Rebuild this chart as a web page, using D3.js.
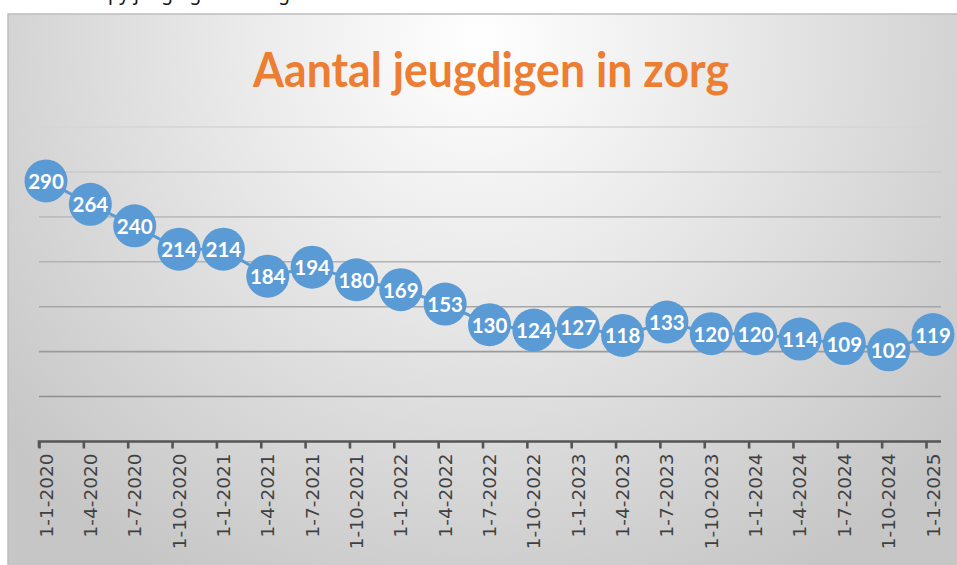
<!DOCTYPE html>
<html>
<head>
<meta charset="utf-8">
<script src="https://cdn.jsdelivr.net/npm/d3@7"></script>
<style>
  html, body { margin: 0; padding: 0; background: #fff; }
  svg { display: block; }
</style>
</head>
<body>
<div id="chart"></div>
<script>
const dates = ["1-1-2020", "1-4-2020", "1-7-2020", "1-10-2020", "1-1-2021", "1-4-2021", "1-7-2021",
    "1-10-2021", "1-1-2022", "1-4-2022", "1-7-2022", "1-10-2022", "1-1-2023", "1-4-2023",
    "1-7-2023", "1-10-2023", "1-1-2024", "1-4-2024", "1-7-2024", "1-10-2024", "1-1-2025"];
const counts = [290, 264, 240, 214, 214, 184, 194, 180, 169, 153, 130, 124, 127, 118, 133, 120, 120, 114, 109, 102, 119];
const gridValues = [50, 100, 150, 200, 250, 300, 350];
const title = "Aantal jeugdigen in zorg";

const width = 957;
const height = 565;

const svg = d3.select("#chart")
    .append("svg")
    .attr("width", width)
    .attr("height", height);

const defs = svg.append("defs");
const bg = defs.append("radialGradient")
    .attr("id", "bg")
    .attr("gradientUnits", "userSpaceOnUse")
    .attr("cx", 480).attr("cy", 40).attr("r", 620);
bg.append("stop").attr("offset", "0%").attr("stop-color", "#ffffff");
bg.append("stop").attr("offset", "35%").attr("stop-color", "#ececec");
bg.append("stop").attr("offset", "100%").attr("stop-color", "#c6c6c6");

// partly cut-off caption above the chart
svg.append("text")
    .attr("x", 108)
    .attr("y", 0)
    .attr("font-family", "Noto Sans")
    .attr("font-size", 19)
    .attr("fill", "#111")
    .text("py jeugdigen in zorg");

// chart panel
svg.append("rect")
    .attr("x", 8).attr("y", 14)
    .attr("width", width).attr("height", height)
    .attr("fill", "url(#bg)")
    .attr("stroke", "#bdbdbd")
    .attr("stroke-width", 1.5);

const margin = { top: 127, left: 39, right: 16, bottom: 124 };
const innerWidth = width - margin.left - margin.right;
const innerHeight = height - margin.top - margin.bottom;
const tickSpan = 887;
const pointShift = 7;

const xScale = d3.scalePoint()
    .domain(dates)
    .range([0, tickSpan]);

const yScale = d3.scaleLinear()
    .domain([0, 350])
    .range([innerHeight + 0.5, 0]);

const g = svg.append("g")
    .attr("transform", `translate(${margin.left}, ${margin.top})`);

const gridColor = d3.scaleLinear()
    .domain([50, 350])
    .range(["#8f8f8f", "#d4d4d4"]);

g.selectAll(".grid").data(gridValues)
    .enter().append("line")
    .attr("class", "grid")
    .attr("x1", 0)
    .attr("x2", innerWidth)
    .attr("y1", d => yScale(d))
    .attr("y2", d => yScale(d))
    .attr("stroke", d => gridColor(d))
    .attr("stroke-width", 1.6);

// x axis
const xAxis = d3.axisBottom(xScale)
    .tickSize(7)
    .tickFormat("");

const xAxisG = g.append("g")
    .attr("transform", `translate(0, ${yScale(0)})`)
    .call(xAxis);
xAxisG.select(".domain")
    .attr("d", `M0,6V0H${innerWidth}`)
    .attr("stroke", "#555")
    .attr("stroke-width", 2.6);
xAxisG.selectAll(".tick line")
    .attr("stroke", "#555")
    .attr("stroke-width", 2.6);

g.selectAll(".xlabel").data(dates)
    .enter().append("text")
    .attr("class", "xlabel")
    .attr("transform", d => `translate(${xScale(d) + pointShift}, ${yScale(0) + 12}) rotate(-90)`)
    .attr("text-anchor", "end")
    .attr("dominant-baseline", "central")
    .attr("font-family", "DejaVu Sans")
    .attr("font-size", 18.5)
    .attr("fill", "#404040")
    .text(d => d);

// series
const points = dates.map((d, i) => ({ date: d, value: counts[i] }));

const lineGenerator = d3.line()
    .x(d => xScale(d.date) + pointShift)
    .y(d => yScale(d.value));

g.append("path")
    .attr("fill", "none")
    .attr("stroke", "#5b9bd5")
    .attr("stroke-width", 3)
    .attr("d", lineGenerator(points));

g.selectAll(".dot").data(points)
    .enter().append("circle")
    .attr("class", "dot")
    .attr("cx", d => xScale(d.date) + pointShift)
    .attr("cy", d => yScale(d.value))
    .attr("r", 21.5)
    .attr("fill", "#5b9bd5");

g.selectAll(".value").data(points)
    .enter().append("text")
    .attr("class", "value")
    .attr("x", d => xScale(d.date) + pointShift)
    .attr("y", d => yScale(d.value) + 8)
    .attr("text-anchor", "middle")
    .attr("font-family", "Lato")
    .attr("font-weight", "bold")
    .attr("font-size", 20.5)
    .attr("fill", "#ffffff")
    .text(d => d.value);

// title
svg.append("text")
    .attr("x", 491)
    .attr("y", 87)
    .attr("text-anchor", "middle")
    .attr("font-family", "Lato")
    .attr("font-weight", "bold")
    .attr("font-size", 48)
    .attr("textLength", 476)
    .attr("lengthAdjust", "spacingAndGlyphs")
    .attr("fill", "#ed7d31")
    .text(title);
</script>
</body>
</html>
